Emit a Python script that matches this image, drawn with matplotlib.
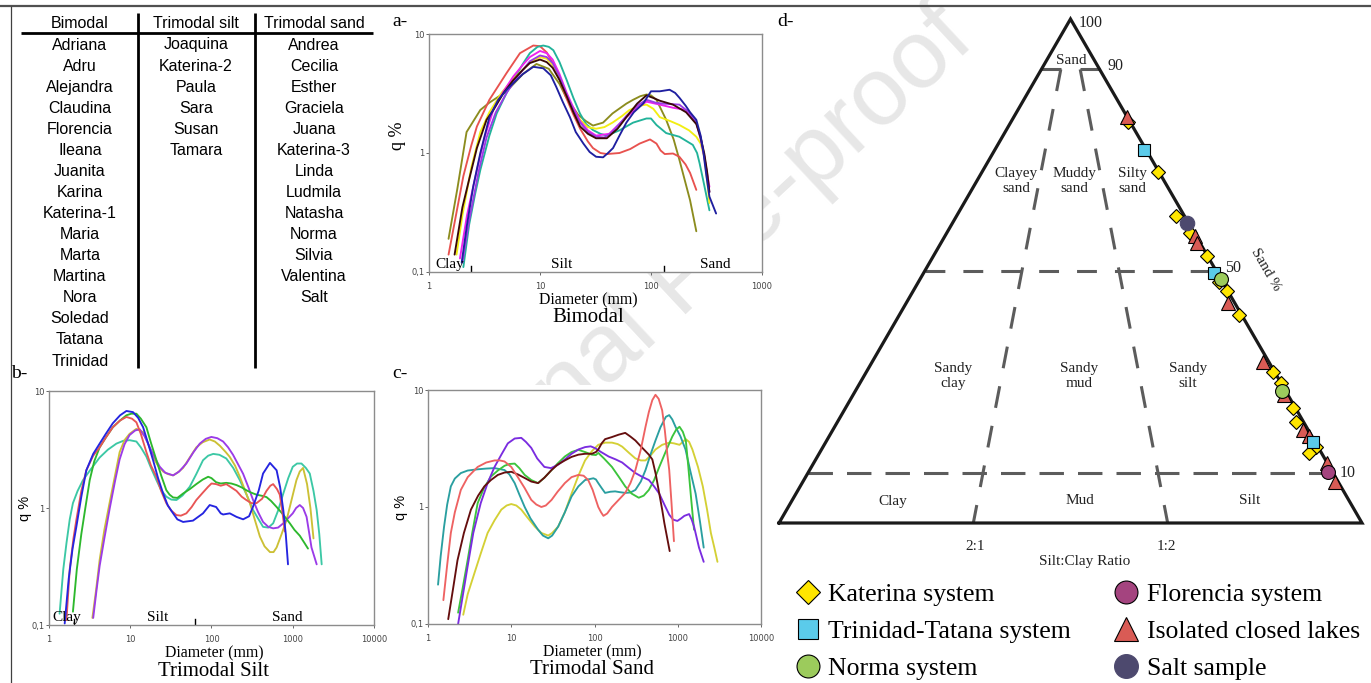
import numpy as np
import matplotlib
matplotlib.use('Agg')
import matplotlib.pyplot as plt
from matplotlib.patches import Rectangle
from matplotlib.ticker import NullLocator
from matplotlib.font_manager import FontProperties

W, H = 1371, 683
SERIF = 'Liberation Serif'
SANS = 'Liberation Sans'

# ---------------- table data ----------------
TABLE_HEADERS = ['Bimodal', 'Trimodal silt', 'Trimodal sand']
BIMODAL = ['Adriana', 'Adru', 'Alejandra', 'Claudina', 'Florencia', 'Ileana', 'Juanita',
           'Karina', 'Katerina-1', 'Maria', 'Marta', 'Martina', 'Nora', 'Soledad',
           'Tatana', 'Trinidad']
TRI_SILT = ['Joaquina', 'Katerina-2', 'Paula', 'Sara', 'Susan', 'Tamara']
TRI_SAND = ['Andrea', 'Cecilia', 'Esther', 'Graciela', 'Juana', 'Katerina-3', 'Linda',
            'Ludmila', 'Natasha', 'Norma', 'Silvia', 'Valentina', 'Salt']

# ---------------- grain-size curves: (diameter, q%) ----------------
# a - Bimodal
A_OLIVE = [(1.5,0.19),(1.8,0.5),(2.18,1.5),(2.9,2.3),(3.5,2.65),(5.0,3.3),(7.0,4.6),(9.3,5.6),
           (12,5.1),(15,3.8),(17,3.0),(22,2.1),(26,1.85),(30,1.7),(37,1.8),(45,2.15),(60,2.6),
           (69,2.8),(80,3.0),(91,3.1),(100,3.05),(112,2.8),(137,1.9),(160,1.3),(180,0.88),
           (225,0.4),(256,0.22)]
A_RED = [(1.5,0.14),(1.75,0.3),(2.04,0.64),(2.4,1.15),(2.7,1.67),(3.5,2.8),(5.0,4.7),(6.6,6.9),
         (8.7,8.0),(10,7.9),(11.5,7.0),(13,5.7),(15,4.2),(17,3.0),(20,2.1),(23,1.6),(27,1.25),
         (30,1.1),(35,1.0),(40,0.98),(52,1.0),(65,1.08),(79,1.2),(98,1.3),(112,1.2),(122,1.05),
         (133,0.98),(158,0.99),(180,0.93),(205,0.8),(225,0.68),(256,0.49)]
A_NAVY = [(1.97,0.12),(2.2,0.25),(2.5,0.52),(2.9,1.0),(3.5,2.0),(4.2,2.8),(5.0,3.4),(7.0,4.6),
          (8.7,5.3),(10.7,5.15),(12.5,4.5),(14,3.6),(16,2.7),(18.6,2.0),(21,1.5),(24.6,1.2),
          (28,1.02),(32,0.93),(37,0.92),(41,1.0),(45.5,1.1),(52,1.4),(60,1.8),(70,2.2),(85,2.6),
          (100,3.3),(120,3.3),(147,3.4),(165,3.2),(181,2.9),(205,2.5),(225,2.2),(256,1.9),
          (280,1.4),(295,1.05),(315,0.65),(336,0.43),(386,0.31)]
A_TEAL = [(2.04,0.11),(2.3,0.25),(2.6,0.45),(2.9,0.72),(3.5,1.4),(4.07,2.15),(5.0,3.2),(5.75,4.1),
          (7.0,5.6),(8.1,6.9),(9.5,7.8),(10.7,8.0),(12,7.8),(13.2,7.3),(15,5.8),(17.4,4.1),
          (20,2.9),(22.9,2.15),(26,1.75),(30,1.56),(35,1.45),(40,1.4),(52,1.55),(69,1.8),
          (91,1.95),(100,1.95),(112,1.72),(137,1.47),(180,1.37),(238,1.17),(260,1.0),(274,0.82),
          (300,0.55),(336,0.33)]
A_MAGENTA = [(1.9,0.13),(2.2,0.3),(2.7,0.72),(3.2,1.4),(3.8,2.3),(4.7,3.3),(5.75,4.4),(7.0,5.5),
             (8.1,6.4),(10,7.2),(11.5,6.9),(13,6.1),(15,4.6),(17.4,3.2),(20,2.4),(23,1.85),
             (27,1.55),(32,1.4),(42,1.45),(50,1.7),(60,2.0),(75,2.4),(91,2.7),(120,2.55),
             (158,2.4),(207,2.3),(256,1.8),(280,1.35),(302,0.93),(336,0.52)]
A_PURPLE = [(2.0,0.12),(2.3,0.27),(2.8,0.7),(3.3,1.35),(4.0,2.2),(5.0,3.2),(6.3,4.4),(8.1,5.9),
            (10,6.6),(11.5,6.4),(13,5.7),(15,4.4),(17.4,3.1),(20,2.3),(23,1.8),(27,1.5),
            (32,1.37),(38,1.35),(45,1.5),(60,2.05),(75,2.5),(91,2.8),(110,2.65),(128,2.6),
            (180,2.55),(220,2.2),(256,1.8),(280,1.3),(302,0.95),(336,0.47)]
A_YELLOW = [(1.77,0.14),(2.0,0.3),(2.4,0.75),(2.9,1.5),(3.5,2.2),(4.5,3.2),(5.75,4.2),(7.0,5.0),
            (8.1,5.8),(10,6.4),(11.5,6.2),(13,5.5),(15,4.3),(17.4,3.1),(20,2.3),(23,1.9),
            (27,1.65),(32,1.6),(38,1.65),(45,1.8),(55,2.05),(64,2.3),(80,2.5),(91,2.55),
            (105,2.35),(120,2.0),(150,1.85),(180,1.72),(220,1.55),(256,1.37),(280,1.2),
            (302,0.93),(320,0.6),(336,0.38)]
A_BROWN = [(1.7,0.14),(2.0,0.35),(2.3,0.6),(2.7,1.1),(3.3,1.9),(3.8,2.3),(4.7,3.2),(5.75,4.1),
           (7.0,5.0),(8.1,5.7),(10,6.1),(11.5,5.8),(13,5.2),(15,4.1),(17.4,3.0),(20,2.2),
           (23,1.67),(27,1.45),(32,1.33),(40,1.33),(50,1.6),(60,2.0),(75,2.6),(91,3.05),
           (105,2.9),(120,2.75),(158,2.55),(207,2.2),(256,1.75),(280,1.35),(302,0.99),
           (320,0.7),(336,0.47)]

# b - Trimodal silt
B_BLUE = [(1.56,0.103),(1.75,0.25),(1.95,0.45),(2.17,0.69),(2.5,1.25),(2.88,2.1),(3.5,2.9),
          (4.2,3.55),(5,4.3),(6.1,5.3),(7.5,6.2),(8.97,6.75),(10.8,6.6),(12.5,5.9),(14.4,4.9),
          (16.5,3.6),(19.1,2.56),(22,1.8),(25.4,1.33),(29,1.05),(33.7,0.9),(38,0.8),(44.7,0.76),
          (59.2,0.78),(78.6,0.9),(95,1.06),(114,1.02),(130,0.9),(139,0.88),(168,0.9),(203,0.84),
          (245,0.8),(290,0.85),(325,1.03),(380,1.4),(431,1.97),(524,2.43),(633,2.1),(700,1.5),
          (765,0.96),(820,0.6),(874,0.33)]
B_RED = [(1.64,0.11),(1.8,0.3),(2.0,0.55),(2.17,0.79),(2.5,1.4),(2.88,2.1),(3.5,2.8),(4.2,3.3),
         (5.0,4.0),(6.1,4.9),(7.5,5.6),(8.97,6.0),(10.5,5.8),(11.9,5.4),(13.5,4.3),(15.8,3.0),
         (18,2.3),(21,1.85),(24,1.4),(27.8,1.1),(32,0.95),(37,0.87),(42,0.86),(49,0.9),
         (57,1.02),(65,1.17),(78,1.35),(91,1.52),(100,1.62),(114,1.6),(130,1.55),(152,1.6),
         (175,1.5),(203,1.4),(235,1.25),(268,1.17),(310,1.1),(358,1.1),(420,1.2),(475,1.4),
         (530,1.55),(574,1.6),(640,1.45),(692,1.3),(750,0.9),(800,0.63)]
B_GREEN = [(1.97,0.13),(2.2,0.3),(2.5,0.6),(2.8,1.0),(3.17,1.73),(3.6,2.5),(4.2,3.3),(5.0,4.0),
           (6.1,4.9),(7.5,5.6),(8.97,6.2),(10.3,6.4),(11.9,6.4),(13.5,5.8),(15.8,4.9),(18,3.6),
           (21,2.56),(24,1.9),(27.8,1.42),(30.5,1.3),(33.7,1.23),(38,1.22),(44.7,1.33),(54,1.45),
           (65,1.6),(78,1.75),(91,1.85),(100,1.8),(114,1.66),(130,1.62),(152,1.64),(175,1.62),
           (203,1.57),(235,1.5),(268,1.42),(310,1.35),(358,1.3),(420,1.27),(475,1.24),
           (540,1.15),(633,1.02),(760,0.88),(920,0.74),(1050,0.65),(1220,0.58),(1400,0.5),
           (1540,0.45)]
B_TEAL = [(1.35,0.125),(1.5,0.3),(1.64,0.5),(1.8,0.8),(1.97,1.1),(2.25,1.4),(2.62,1.73),
          (3.2,2.1),(4.2,2.7),(5.3,3.15),(6.75,3.55),(8.2,3.75),(9.8,3.8),(11.9,3.7),(13.5,3.3),
          (15.8,2.75),(18,2.2),(21,1.73),(24,1.42),(27.8,1.25),(32,1.18),(37,1.17),(44,1.28),
          (54,1.52),(65,1.95),(78.6,2.56),(91,2.8),(105,2.9),(125,2.85),(152,2.65),(185,2.2),
          (223,1.73),(270,1.3),(325,0.96),(380,0.8),(431,0.69),(500,0.68),(574,0.74),
          (660,0.95),(765,1.33),(880,1.8),(1000,2.25),(1130,2.4),(1280,2.4),(1450,2.2),
          (1620,1.97),(1800,1.4),(1970,0.96),(2120,0.6),(2270,0.33)]
B_KHAKI = [(3.42,0.115),(3.8,0.2),(4.2,0.36),(4.8,0.65),(5.6,1.13),(6.5,1.9),(7.4,3.0),
           (8.5,3.8),(9.8,4.3),(11.9,4.75),(14.4,4.45),(16.5,3.6),(19.1,2.7),(22,2.3),
           (25.4,2.05),(29,1.95),(33.7,1.9),(38,2.0),(44.7,2.2),(54,2.7),(65,3.3),(78,3.65),
           (95,3.85),(110,3.7),(127,3.4),(150,3.0),(168,2.73),(195,2.3),(223,1.85),(260,1.4),
           (297,1.1),(340,0.8),(394,0.57),(450,0.47),(524,0.42),(580,0.42),(633,0.46),
           (730,0.6),(840,0.79),(960,1.15),(1110,1.73),(1220,2.05),(1340,2.2),(1500,1.6),
           (1650,1.0),(1800,0.55)]
B_PURPLE = [(3.5,0.115),(3.85,0.2),(4.2,0.32),(4.8,0.55),(5.6,1.0),(6.5,1.7),(7.4,2.6),
            (8.5,3.5),(9.8,4.2),(11.5,4.6),(13.1,4.7),(15,4.1),(17.4,3.3),(20,2.7),(23.1,2.25),
            (27,2.0),(33.7,1.9),(40,2.05),(49,2.4),(60,3.0),(71.7,3.55),(85,3.9),(99.6,4.05),
            (118,3.95),(139,3.7),(160,3.3),(184,2.85),(210,2.4),(245,1.96),(285,1.5),
            (325,1.17),(375,0.92),(431,0.76),(500,0.69),(574,0.67),(660,0.68),(765,0.74),
            (880,0.82),(1000,0.9),(1100,1.0),(1220,1.06),(1340,1.0),(1480,0.84),(1600,0.6),
            (1700,0.46),(1970,0.33)]

# c - Trimodal sand
C_TEAL = [(1.32,0.217),(1.42,0.38),(1.56,0.68),(1.7,1.05),(1.88,1.5),(2.1,1.75),(2.48,1.95),
          (3.0,2.05),(3.95,2.1),(5.0,2.13),(6.3,2.15),(8.3,2.07),(9.5,1.9),(11,1.6),(12.5,1.28),
          (14.5,1.0),(17,0.8),(21,0.64),(24,0.57),(27.8,0.54),(31,0.57),(36.6,0.68),(44,0.9),
          (53,1.23),(64,1.5),(77,1.7),(97,1.76),(104,1.72),(111,1.6),(122,1.45),(134,1.32),
          (155,1.35),(177,1.36),(200,1.34),(234,1.32),(270,1.33),(310,1.4),(360,1.65),
          (410,2.07),(470,2.8),(540,3.7),(620,4.8),(720,5.9),(790,6.1),(860,5.6),(940,4.85),
          (1080,4.0),(1240,3.1),(1400,2.1),(1640,1.3),(1850,0.75),(2050,0.45)]
C_RED = [(1.53,0.16),(1.7,0.32),(1.88,0.6),(2.1,0.9),(2.48,1.4),(3.0,1.8),(3.95,2.2),(5.0,2.4),
         (6.3,2.5),(7.3,2.5),(8.3,2.45),(10,2.2),(12,1.8),(14.5,1.45),(17.4,1.15),(20,1.05),
         (23,1.0),(26,1.03),(30.5,1.15),(36,1.35),(44,1.6),(53,1.8),(64,1.88),(74,1.85),
         (84,1.7),(95,1.4),(104,1.15),(111,1.0),(120,0.9),(128,0.84),(142,0.88),(162,1.0),
         (195,1.15),(234,1.32),(270,1.6),(310,2.07),(360,3.1),(410,4.85),(450,6.5),(495,8.2),
         (540,9.1),(590,8.4),(650,6.7),(700,4.5),(750,2.8),(790,2.07),(840,1.1),(900,0.51)]
C_BROWN = [(1.75,0.11),(2.0,0.2),(2.26,0.35),(2.7,0.6),(3.28,0.95),(4.0,1.25),(4.75,1.5),
           (5.7,1.7),(6.9,1.88),(8.3,1.97),(10,2.0),(12,1.9),(14.5,1.77),(17.4,1.65),(21,1.6),
           (25,1.78),(30.5,2.07),(36,2.3),(44,2.5),(53,2.68),(64,2.8),(77,2.85),(93,2.85),
           (104,2.95),(111,3.1),(122,3.5),(134,3.8),(160,3.95),(195,4.15),(234,4.3),(270,4.0),
           (310,3.7),(360,3.3),(410,3.0),(450,2.8),(495,2.55),(545,1.9),(600,1.3),(650,0.95),
           (690,0.73),(800,0.42)]
C_GREEN = [(2.3,0.125),(2.6,0.2),(2.99,0.35),(3.4,0.6),(3.95,1.08),(4.7,1.45),(5.7,1.82),
           (6.9,2.05),(8.3,2.25),(9.5,2.33),(11,2.35),(12.5,2.15),(14.5,1.88),(17.4,1.7),
           (21,1.6),(25,1.78),(30.5,2.07),(36,2.35),(44,2.7),(53,2.95),(64,3.08),(77,2.95),
           (93,2.8),(104,2.78),(111,2.9),(130,2.6),(162,2.2),(195,1.82),(234,1.5),(280,1.3),
           (340,1.2),(390,1.25),(450,1.4),(520,1.7),(600,2.2),(720,3.0),(860,4.0),(960,4.6),
           (1050,4.85),(1150,4.4),(1250,3.7),(1340,2.2),(1430,1.3),(1500,0.9),(1570,0.64)]
C_PURPLE = [(2.3,0.10),(2.6,0.17),(2.99,0.31),(3.5,0.6),(4.3,1.08),(5.2,1.6),(6.3,2.2),
            (7.6,2.8),(9.1,3.5),(11,3.85),(13.2,3.9),(15,3.6),(17.4,3.2),(20.5,2.6),(25,2.2),
            (30,2.15),(36.6,2.3),(44,2.55),(53,2.85),(64,3.1),(77,3.25),(90,3.3),(102,3.18),
            (120,2.95),(148,2.7),(180,2.55),(215,2.4),(260,2.15),(310,1.95),(380,1.8),
            (450,1.7),(520,1.5),(600,1.3),(690,1.05),(790,0.86),(880,0.78),(990,0.76),
            (1100,0.8),(1200,0.84),(1370,0.87),(1470,0.78),(1570,0.68),(1800,0.45),(2050,0.34)]
C_YELLOW = [(2.65,0.12),(3.0,0.18),(3.6,0.27),(4.3,0.4),(5.2,0.6),(6.3,0.77),(7.6,0.95),
            (8.8,1.03),(10,1.06),(11.5,1.03),(13.2,0.95),(15.5,0.82),(19.2,0.68),(23,0.6),
            (27.8,0.57),(31,0.6),(36.6,0.68),(44,0.9),(53,1.3),(64,1.85),(77,2.5),(93,3.0),
            (111,3.4),(135,3.55),(162,3.55),(190,3.45),(215,3.28),(260,2.9),(310,2.6),
            (360,2.5),(410,2.5),(470,2.75),(540,3.1),(650,3.4),(790,3.55),(900,3.5),
            (1050,3.4),(1150,3.6),(1250,3.8),(1370,3.6),(1500,3.1),(1750,2.2),(2000,1.5),
            (2250,0.95),(2500,0.6),(2750,0.45),(3000,0.34)]

# ---------------- ternary data (sand %, clay %) ----------------
KAT_SAND = [79.6, 69.6, 61.0, 57.6, 52.9, 47.9, 46.0, 41.3, 30.0, 27.8, 22.8, 20.1, 15.1, 13.9]
KAT_CLAY = [0.4, 0.2, 1.4, 0.75, 0.2, 0.5, 0.2, 0.45, 0.3, 0.0, 0.4, 1.3, 0.3, 2.1]
TRI_SAND_PCT = [74.0, 49.7, 16.0]
TRI_CLAY_PCT = [0.4, 0.5, 0.4]
NOR_SAND = [48.4, 26.1]
NOR_CLAY = [0.0, 0.7]
FLO_SAND = [10.2]
FLO_CLAY = [0.7]
ISO_SAND = [80.6, 56.9, 55.5, 43.6, 31.9, 25.3, 18.5, 17.3, 11.9, 8.2]
ISO_CLAY = [0.0, 0.2, 0.5, 1.1, 1.1, 0.7, 0.9, 0.4, 0.0, 0.5]
SALT_SAND = [59.6]
SALT_CLAY = [0.3]

# ---------------- figure ----------------
fig = plt.figure(figsize=(W / 100, H / 100), dpi=100)

# watermark (behind panels)
fig.text(685 / W, 1 - 281 / H, 'Journal Pre-proof', rotation=43, ha='center', va='center',
         rotation_mode='anchor', fontsize=70, color='#e7e7e7', family=SANS, zorder=-5)
# opaque area of the lower-middle panel image
fig.add_artist(Rectangle((380 / W, 0), 392 / W, 1 - 385 / H, transform=fig.transFigure,
                         facecolor='white', edgecolor='none', zorder=-4))

# overlay in pixel coordinates
ov = fig.add_axes([0, 0, 1, 1], zorder=10)
ov.set_xlim(0, W)
ov.set_ylim(H, 0)
ov.axis('off')

# frame lines
ov.plot([0, W], [6, 6], color='#505050', lw=1.6, solid_capstyle='butt')
ov.plot([11, 11], [6, H], color='#404040', lw=0.9, solid_capstyle='butt')

# table
col_x = [80, 196, 314]
for cx, head in zip(col_x, TABLE_HEADERS):
    ov.text(cx, 23, head, ha='center', va='center', fontsize=11.5, family=SANS)
ov.plot([21, 373], [33, 33], color='black', lw=2.0, solid_capstyle='butt')
for vx in (138, 255):
    ov.plot([vx, vx], [13, 368], color='black', lw=2.0, solid_capstyle='butt')
for cx, names in zip(col_x, [BIMODAL, TRI_SILT, TRI_SAND]):
    for i, nm in enumerate(names):
        ov.text(cx, 45 + i * 21.07, nm, ha='center', va='center', fontsize=11.5, family=SANS)

# panel labels
for lab, (px, py) in {'a-': (400, 21), 'b-': (19, 373), 'c-': (400, 374), 'd-': (786, 22)}.items():
    ov.text(px, py, lab, ha='center', va='center', fontsize=14, family=SERIF)


def make_panel(l, t, r, b, xmax, curves, title, title_x, ylab_serif, ylab_x, zones, bounds):
    ax = fig.add_axes([l / W, 1 - b / H, (r - l) / W, (b - t) / H], zorder=2)
    ax.set_facecolor('white')
    ax.set_xscale('log')
    ax.set_yscale('log')
    ax.set_xlim(1, xmax)
    ax.set_ylim(0.1, 10)
    for pts, col in curves:
        d = [p[0] for p in pts]
        q = [p[1] for p in pts]
        ax.plot(d, q, color=col, lw=1.35, solid_joinstyle='round', solid_capstyle='round')
    xt = [10 ** k for k in range(int(round(np.log10(xmax))) + 1)]
    ax.set_xticks(xt)
    ax.set_xticklabels([str(v) for v in xt])
    ax.set_yticks([0.1, 1, 10])
    ax.set_yticklabels(['0,1', '1', '10'])
    ax.xaxis.set_minor_locator(NullLocator())
    ax.yaxis.set_minor_locator(NullLocator())
    ax.tick_params(axis='x', length=2, width=0.7, color='#666', labelsize=6,
                   labelcolor='#444', pad=5)
    ax.tick_params(axis='y', length=2, width=0.7, color='#666', labelsize=6,
                   labelcolor='#444', pad=1)
    for s in ax.spines.values():
        s.set_color('#8c8c8c')
        s.set_linewidth(1.0)
    for txt, xv in zones:
        ax.text(xv, 0.005, txt, transform=ax.get_xaxis_transform(), ha='center',
                va='bottom', fontsize=11, family=SERIF)
    for xv in bounds:
        ax.axvline(xv, ymin=0, ymax=6 / (b - t), color='black', lw=1.0)
    ov.text(title_x, b + 28, 'Diameter (mm)', ha='center', va='center', fontsize=11.4,
            family=SERIF)
    ov.text(title_x, b + 46, title, ha='center', va='center', fontsize=15, family=SERIF)
    if ylab_serif:
        ov.text(ylab_x, (t + b) / 2 - 17, 'q %', rotation=90, ha='center', va='center',
                fontsize=13, family=SERIF)
    else:
        ov.text(ylab_x, (t + b) / 2, 'q %', rotation=90, ha='center', va='center',
                fontsize=10.5, family=SANS)
    return ax


make_panel(429, 34, 762, 272, 1000,
           [(A_OLIVE, '#8c8c1e'), (A_RED, '#e8524f'), (A_TEAL, '#22b39a'),
            (A_YELLOW, '#f2ee12'), (A_MAGENTA, '#ee22ee'), (A_PURPLE, '#9a3ce6'),
            (A_BROWN, '#3a0808'), (A_NAVY, '#1f1fa0')],
           'Bimodal', 588, True, 398,
           [('Clay', 1.55), ('Silt', 15.8), ('Sand', 377)], [2.39, 131])

make_panel(49, 391, 374, 625, 10000,
           [(B_TEAL, '#3cc8a5'), (B_KHAKI, '#ccc035'), (B_PURPLE, '#9b3be8'),
            (B_GREEN, '#2db82d'), (B_RED, '#e85555'), (B_BLUE, '#2424e0')],
           'Trimodal Silt', 214, False, 25,
           [('Clay', 1.67), ('Silt', 22), ('Sand', 850)], [2.05, 62.6])

make_panel(428, 390, 761, 624, 10000,
           [(C_YELLOW, '#d4d035'), (C_TEAL, '#2a9fa0'), (C_GREEN, '#3cc43c'),
            (C_PURPLE, '#7a2ce0'), (C_BROWN, '#650e0e'), (C_RED, '#ee6262')],
           'Trimodal Sand', 592, False, 401, [], [])

# ---------------- ternary diagram ----------------
TX0, TY0, TX1, TYT = 779, 523, 1362, 19
axT = fig.add_axes([TX0 / W, 1 - TY0 / H, (TX1 - TX0) / W, (TY0 - TYT) / H], zorder=3)
axT.set_xlim(0, 1)
axT.set_ylim(0, np.sqrt(3) / 2)
axT.axis('off')


def tern(sand, clay):
    sand = np.asarray(sand, dtype=float) / 100.0
    clay = np.asarray(clay, dtype=float) / 100.0
    silt = 1.0 - sand - clay
    return silt + sand / 2.0, sand * np.sqrt(3) / 2.0


DASH_COL = '#5c5c5c'
for lvl, pattern in ((50, (6.5, 5.9)), (10, (8.0, 4.6))):
    x, y = tern([lvl, lvl], [100 - lvl, 0])
    axT.plot(x, y, color=DASH_COL, lw=2.2, linestyle=(0, pattern), clip_on=False,
             dash_capstyle='butt')
for frac_clay in (2 / 3, 1 / 3):
    x, y = tern([90, 0], [10 * frac_clay, 100 * frac_clay])
    axT.plot(x, y, color=DASH_COL, lw=2.2, linestyle=(0, (7.2, 6.0)), clip_on=False,
             dash_capstyle='butt')
for c0, c1 in ((10, 10 * 2 / 3), (10 / 3, 0)):
    x, y = tern([90, 90], [c0, c1])
    axT.plot(x, y, color=DASH_COL, lw=2.2, clip_on=False, solid_capstyle='butt')
x, y = tern([0, 0, 100, 0], [100, 0, 0, 100])
axT.plot(x, y, color='#1a1a1a', lw=2.3, clip_on=False, solid_joinstyle='miter')

YEL, BLU, GRN, PUR, RED, SALT = '#ffe600', '#5bcbea', '#9ccb5c', '#a4447f', '#d95b55', '#4d496e'
groups = [
    ('Katerina system', KAT_SAND, KAT_CLAY, 'D', 7.1, YEL, 'black'),
    ('Isolated closed lakes', ISO_SAND, ISO_CLAY, '^', 10.5, RED, 'black'),
    ('Trinidad-Tatana system', TRI_SAND_PCT, TRI_CLAY_PCT, 's', 8.9, BLU, 'black'),
    ('Norma system', NOR_SAND, NOR_CLAY, 'o', 10.0, GRN, 'black'),
    ('Florencia system', FLO_SAND, FLO_CLAY, 'o', 10.0, PUR, 'black'),
    ('Salt sample', SALT_SAND, SALT_CLAY, 'o', 10.4, SALT, SALT),
]
handles = {}
for name, s, c, mk, ms, fc, ec in groups:
    x, y = tern(s, c)
    h, = axT.plot(x, y, linestyle='none', marker=mk, markersize=ms, markerfacecolor=fc,
                  markeredgecolor=ec, markeredgewidth=0.8, clip_on=False)
    handles[name] = h

order = ['Katerina system', 'Trinidad-Tatana system', 'Norma system',
         'Florencia system', 'Isolated closed lakes', 'Salt sample']
axT.legend([handles[k] for k in order], order, loc='upper left',
           bbox_to_anchor=(795 / W, 1 - 583 / H), bbox_transform=fig.transFigure,
           ncol=2, frameon=False, prop=FontProperties(family=SERIF, size=18.5),
           handlelength=1.0, handletextpad=0.3, columnspacing=1.65, labelspacing=0.55,
           borderpad=0, borderaxespad=0, markerscale=1.65)

# ternary texts (pixel positions)
tt = dict(ha='center', va='center', family=SERIF, color='#222')
ov.text(1071, 61, 'Sand', fontsize=11, **tt)
ov.text(1016, 181, 'Clayey\nsand', fontsize=11, linespacing=1.15, **tt)
ov.text(1074, 181, 'Muddy\nsand', fontsize=11, linespacing=1.15, **tt)
ov.text(1132, 181, 'Silty\nsand', fontsize=11, linespacing=1.15, **tt)
ov.text(953, 376, 'Sandy\nclay', fontsize=11, linespacing=1.15, **tt)
ov.text(1079, 376, 'Sandy\nmud', fontsize=11, linespacing=1.15, **tt)
ov.text(1188, 376, 'Sandy\nsilt', fontsize=11, linespacing=1.15, **tt)
ov.text(893, 501, 'Clay', fontsize=11, **tt)
ov.text(1080, 501, 'Mud', fontsize=11, **tt)
ov.text(1250, 501, 'Silt', fontsize=11, **tt)
ov.text(975, 546, '2:1', fontsize=11, **tt)
ov.text(1166, 546, '1:2', fontsize=11, **tt)
ov.text(1085, 562, 'Silt:Clay Ratio', fontsize=11, **tt)
ov.text(1091, 23, '100', fontsize=11.5, **tt)
ov.text(1116, 66, '90', fontsize=11.5, **tt)
ov.text(1233, 268, '50', fontsize=11.5, **tt)
ov.text(1348, 473, '10', fontsize=11.5, **tt)
ov.text(1266, 270, 'Sand %', fontsize=11, rotation=-60, **tt)

fig.savefig('out.png', dpi=100)
